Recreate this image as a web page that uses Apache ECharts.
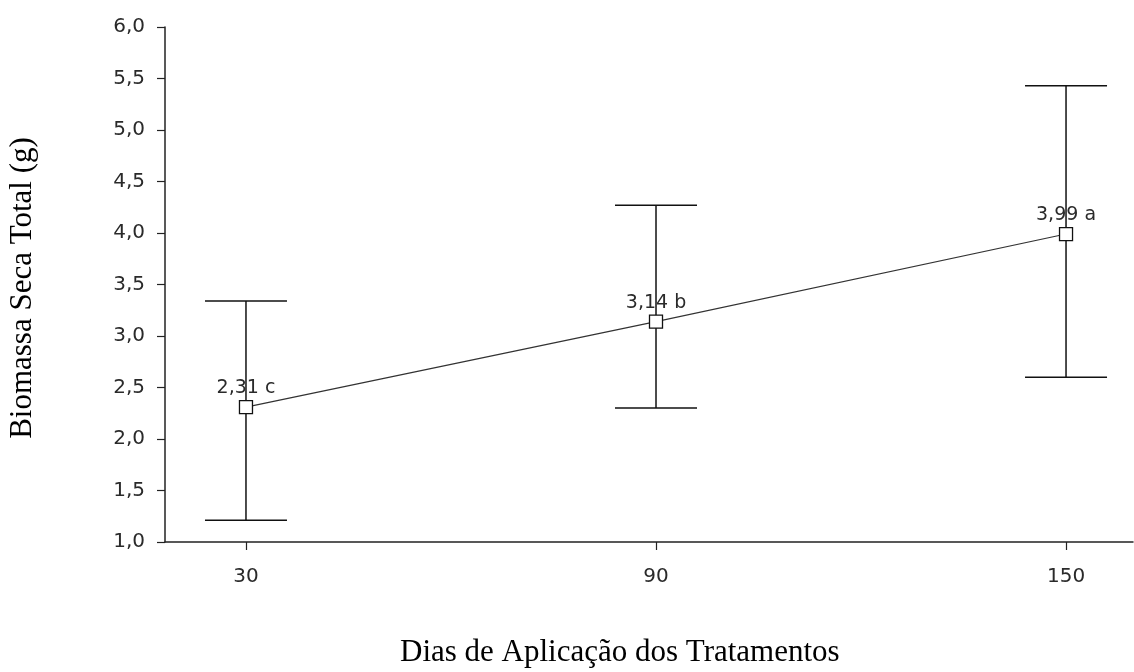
<!DOCTYPE html>
<html>
<head>
<meta charset="utf-8">
<script src="https://cdn.jsdelivr.net/npm/echarts@6/dist/echarts.min.js"></script>
<style>html,body{margin:0;padding:0;background:#fff}#c{width:1134px;height:672px}</style>
</head>
<body>
<div id="c"></div>
<script>
const days = [30, 90, 150];
const means = [2.31, 3.14, 3.99];
const upper = [3.34, 4.27, 5.43];
const lower = [1.21, 2.30, 2.60];
const pointLabels = ['2,31 c', '3,14 b', '3,99 a'];
const xTitle = 'Dias de Aplicação dos Tratamentos';
const yTitle = 'Biomassa Seca Total (g)';

const chart = echarts.init(document.getElementById('c'), null, {renderer: 'canvas'});
const tickFont = {fontFamily: 'DejaVu Sans, sans-serif', fontSize: 20, color: '#2a2a2a'};

const option = {
  animation: false,
  backgroundColor: '#fff',
  grid: {left: 165, right: 1, top: 27, bottom: 130, containLabel: false},
  xAxis: {
    type: 'value', min: 18.15, max: 159.8,
    splitLine: {show: false},
    axisLine: {show: true, lineStyle: {color: '#222', width: 1.5}},
    axisTick: {show: true, customValues: days, length: 8, lineStyle: {color: '#222', width: 1.2}},
    axisLabel: Object.assign({customValues: days, margin: 25}, tickFont)
  },
  yAxis: {
    type: 'value', min: 1, max: 6, interval: 0.5,
    splitLine: {show: false},
    axisLine: {show: true, lineStyle: {color: '#222', width: 1.5}},
    axisTick: {show: true, length: 8, lineStyle: {color: '#222', width: 1.2}},
    axisLabel: Object.assign({margin: 20, formatter: v => v.toFixed(1).replace('.', ',')}, tickFont)
  },
  graphic: [
    {type: 'text', x: 400, y: 653, style: {text: xTitle, x: 0, y: 0, textAlign: 'left', textVerticalAlign: 'middle', font: '31px "Liberation Serif", "Times New Roman", serif', fill: '#000'}},
    {type: 'text', rotation: Math.PI / 2, x: 23, y: 288, style: {text: yTitle, x: 0, y: 0, textAlign: 'center', textVerticalAlign: 'middle', font: '31px "Liberation Serif", "Times New Roman", serif', fill: '#000'}}
  ],
  series: [
    {
      type: 'custom',
      z: 1,
      data: days.map((d, i) => [d, lower[i], upper[i]]),
      renderItem: function (params, api) {
        const x = api.value(0);
        const lo = api.coord([x, api.value(1)]);
        const hi = api.coord([x, api.value(2)]);
        const hw = 41;
        const st = {stroke: '#111', lineWidth: 1.5};
        return {
          type: 'group',
          children: [
            {type: 'line', shape: {x1: hi[0], y1: hi[1], x2: lo[0], y2: lo[1]}, style: st},
            {type: 'line', shape: {x1: hi[0] - hw, y1: hi[1], x2: hi[0] + hw, y2: hi[1]}, style: st},
            {type: 'line', shape: {x1: lo[0] - hw, y1: lo[1], x2: lo[0] + hw, y2: lo[1]}, style: st}
          ]
        };
      }
    },
    {
      type: 'line',
      z: 5,
      data: days.map((d, i) => [d, means[i]]),
      symbol: 'rect', symbolSize: 13,
      itemStyle: {color: '#fff', borderColor: '#111', borderWidth: 1.3},
      lineStyle: {color: '#333', width: 1.2},
      label: {
        show: true, position: 'top', distance: 2,
        formatter: p => pointLabels[p.dataIndex],
        fontFamily: 'DejaVu Sans, sans-serif', fontSize: 19, color: '#2a2a2a'
      }
    }
  ]
};
chart.setOption(option);
</script>
</body>
</html>
